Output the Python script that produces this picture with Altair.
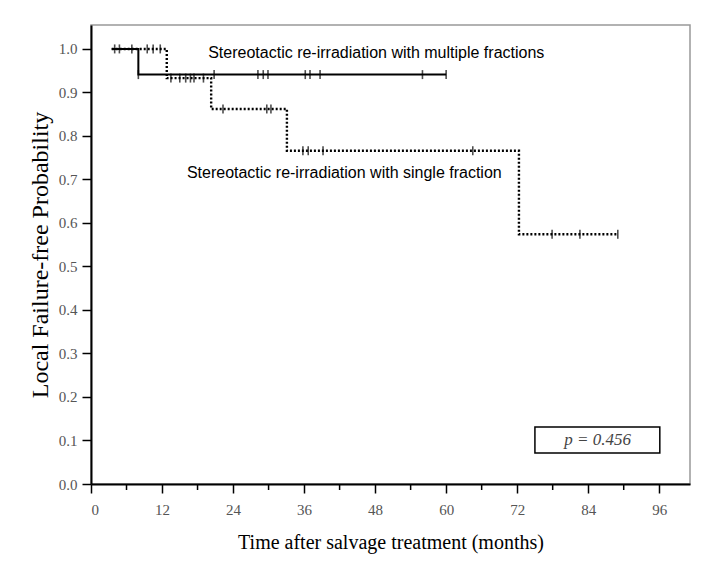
import altair as alt
import pandas as pd

# Kaplan-Meier step curves (time in months, probability)
multi_t = [3.5, 8.0, 60.0]
multi_s = [1.0, 0.941, 0.941]
single_t = [3.5, 12.8, 20.3, 33.1, 72.3, 89.0]
single_s = [1.0, 0.933, 0.862, 0.766, 0.574, 0.574]

# censor marks
multi_cens_t = [4.0, 4.8, 8.0, 20.8, 28.2, 29.1, 29.9, 36.2, 37.0, 38.7, 56.0, 60.0]
multi_cens_s = [1.0, 1.0, 0.941, 0.941, 0.941, 0.941, 0.941, 0.941, 0.941, 0.941, 0.941, 0.941]
single_cens_t = [6.9, 9.5, 10.5, 11.7, 13.5, 15.0, 16.0, 16.8, 17.4, 19.0,
                 22.3, 29.7, 30.4, 35.8, 36.7, 39.2, 64.5, 77.9, 82.6, 89.0]
single_cens_s = [1.0, 1.0, 1.0, 1.0, 0.933, 0.933, 0.933, 0.933, 0.933, 0.933,
                 0.862, 0.862, 0.862, 0.766, 0.766, 0.766, 0.766, 0.574, 0.574, 0.574]

x_ticks = [0, 12, 24, 36, 48, 60, 72, 84, 96]
x_minor = [6, 18, 30, 42, 54, 66, 78, 90]
y_ticks = [0.0, 0.1, 0.2, 0.3, 0.4, 0.5, 0.6, 0.7, 0.8, 0.9, 1.0]

labels = ["Stereotactic re-irradiation with multiple fractions",
          "Stereotactic re-irradiation with single fraction"]
label_t = [19.8, 16.2]
label_s = [0.991, 0.715]

p_text = "p = 0.456"
p_box = {"t1": 75.0, "t2": 96.1, "s1": 0.071, "s2": 0.131, "tc": 85.6, "sc": 0.101}

W, H = 599, 459
xs = alt.Scale(domain=[0, 101.2], nice=False, zero=False)
ys = alt.Scale(domain=[0, 1.055], nice=False, zero=False)

serif = "Liberation Serif"
xaxis = alt.Axis(values=x_ticks, title="Time after salvage treatment (months)",
                 grid=False, labelFont=serif, labelFontSize=15, labelColor="#555",
                 titleFont=serif, titleFontSize=20, titleFontWeight="normal",
                 titleColor="black", domainColor="black", domainWidth=2,
                 tickColor="black", tickWidth=1.5, tickSize=9, labelPadding=9,
                 titlePadding=15)
yaxis = alt.Axis(values=y_ticks, format=".1f", title="Local Failure-free Probability",
                 grid=False, labelFont=serif, labelFontSize=15, labelColor="#555",
                 titleFont=serif, titleFontSize=24, titleFontWeight="normal",
                 titleColor="black", domainColor="black", domainWidth=2,
                 tickColor="black", tickWidth=1.5, tickSize=9, labelPadding=5,
                 titlePadding=6)

df_multi = pd.DataFrame({"t": multi_t, "s": multi_s})
df_single = pd.DataFrame({"t": single_t, "s": single_s})
df_mc = pd.DataFrame({"t": multi_cens_t, "s": multi_cens_s})
df_sc = pd.DataFrame({"t": single_cens_t, "s": single_cens_s})
df_lab = pd.DataFrame({"t": label_t, "s": label_s, "label": labels})
df_minor = pd.DataFrame({"t": x_minor})
df_box = pd.DataFrame([p_box])

multi_line = alt.Chart(df_multi).mark_line(interpolate="step-after", color="black", strokeWidth=2).encode(
    x=alt.X("t:Q", scale=xs, axis=xaxis),
    y=alt.Y("s:Q", scale=ys, axis=yaxis),
)
single_line = alt.Chart(df_single).mark_line(interpolate="step-after", color="black",
                                             strokeWidth=2.4, strokeDash=[2, 2]).encode(
    x=alt.X("t:Q", scale=xs),
    y=alt.Y("s:Q", scale=ys),
)
cens = alt.Chart(pd.concat([df_mc, df_sc])).mark_tick(orient="vertical", color="black",
                                                      size=9, thickness=1.6).encode(
    x=alt.X("t:Q", scale=xs),
    y=alt.Y("s:Q", scale=ys),
)
minor = alt.Chart(df_minor).mark_rule(color="black", strokeWidth=1.5).encode(
    x=alt.X("t:Q", scale=xs),
    y=alt.value(H),
    y2=alt.value(H + 6),
)
texts = alt.Chart(df_lab).mark_text(align="left", baseline="middle", font="Liberation Sans",
                                    fontSize=16, color="black").encode(
    x=alt.X("t:Q", scale=xs),
    y=alt.Y("s:Q", scale=ys),
    text="label:N",
)
box = alt.Chart(df_box).mark_rect(fill=None, stroke="black", strokeWidth=1.5).encode(
    x=alt.X("t1:Q", scale=xs), x2="t2:Q",
    y=alt.Y("s1:Q", scale=ys), y2="s2:Q",
)
ptxt = alt.Chart(df_box).mark_text(font=serif, fontSize=17, fontStyle="italic",
                                   color="#444", baseline="middle", align="center").encode(
    x=alt.X("tc:Q", scale=xs),
    y=alt.Y("sc:Q", scale=ys),
    text=alt.value(p_text),
)

chart = alt.layer(multi_line, single_line, cens, minor, texts, box, ptxt).properties(
    width=W, height=H,
    autosize=alt.AutoSizeParams(type="none"),
    padding={"left": 83, "top": 17, "right": 14, "bottom": 72},
    background="white",
).configure_view(stroke="#999", strokeWidth=1.5)

chart.save("out.html", embed_options={"renderer": "svg", "actions": False})
